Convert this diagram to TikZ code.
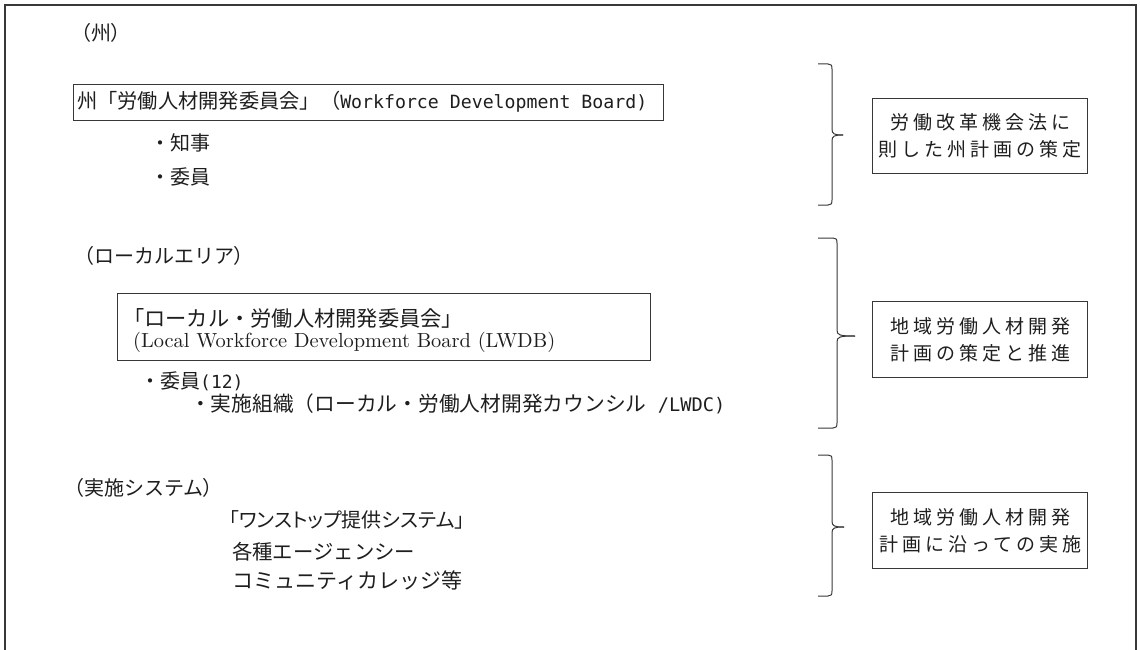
\documentclass[tikz,border=0pt]{standalone}
\usepackage{fontspec}
\usepackage{graphicx}
\newfontfamily\jp{Noto Sans CJK JP}
\newfontfamily\jpp[RawFeature=+palt]{Noto Sans CJK JP}
\newfontfamily\jpw[LetterSpace=21]{Noto Sans CJK JP}
\newfontfamily\monolat[Scale=0.9]{DejaVu Sans Mono}
\definecolor{ink}{HTML}{1E1E1E}
\definecolor{edge}{HTML}{383838}
\newcommand\drawbrace[6]{% left x, vertical x, tip x, top y, mid y, bottom y
  \draw[bracket] (#1,#4) -- ({#2-4},#4) .. controls ({#2-1},#4) and (#2,{#4+1}) .. (#2,{#4+5})
    -- (#2,{#5-6}) .. controls (#2,{#5-1}) and ({#2+2},#5) .. (#3,#5);
  \draw[bracket] (#3,#5) .. controls ({#2+2},#5) and (#2,{#5+1}) .. (#2,{#5+6})
    -- (#2,{#6-5}) .. controls (#2,{#6-1}) and ({#2-1},#6) .. ({#2-4},#6) -- (#1,#6);
}
\begin{document}
\begin{tikzpicture}[x=1pt,y=-1pt,
  txt/.style={inner sep=0pt, anchor=west, text=ink, font=\jp\fontsize{20pt}{24pt}\selectfont},
  frameline/.style={draw=edge, line width=1.1pt},
  box/.style={draw=edge, line width=1.1pt, inner sep=0pt, anchor=north west},
  note/.style={box, align=center, text=ink, font=\jpw\fontsize{19pt}{27pt}\selectfont},
  bracket/.style={draw=edge, line width=1pt}]
\useasboundingbox (0,0) rectangle (1140,650);
% outer frame (open at the bottom)
\draw[frameline] (5,651) -- (5,5) -- (1136,5) -- (1136,651);

% ---- state ----
\node[txt] (hstate) at (81,33) {{\jpp （}州{\jpp ）}};
\node[box, minimum width=590pt, minimum height=36pt] (b1) at (73,84) {};
\node[txt] (b1t) at (77,102) {\resizebox{570pt}{!}{州「労働人材開発委員会」（{\monolat Workforce Development Board)}}};
\node[txt] (gov) at (150,143) {・知事};
\node[txt] (mem1) at (150,177) {・委員};

% ---- local area ----
\node[txt] (hlocal) at (84,256) {{\jpp （}ローカルエリア{\jpp ）}};
\node[box, minimum width=533pt, minimum height=67pt] (b2) at (117,293) {};
\node[txt] (b2a) at (123,318) {\resizebox{340pt}{!}{「ローカル・労働人材開発委員会」}};
\node[txt, font=\rmfamily] (b2b) at (133,342) {\resizebox{422pt}{!}{(Local Workforce Development Board (LWDB)}};
\node[txt] (mem2) at (140,381) {・委員{\monolat (12)}};
\node[txt] (org) at (190,404) {\resizebox{535pt}{!}{・実施組織（ローカル・労働人材開発カウンシル{\monolat\ /LWDC)}}};

% ---- delivery system ----
\node[txt] (hsys) at (74,488) {{\jpp （}実施システム{\jpp ）}};
\node[txt, font=\jpp\fontsize{20pt}{24pt}\selectfont] (s1) at (229,520) {「ワンストップ提供システム」};
\node[txt] (s2) at (232,552) {\resizebox{183pt}{!}{各種エージェンシー}};
\node[txt] (s3) at (232,580) {\resizebox{230pt}{!}{コミュニティカレッジ等}};

% ---- right-hand notes ----
\node[note, minimum width=215pt, minimum height=75pt] (n1) at (872,98) {労働改革機会法に\\則した州計画の策定};
\node[note, minimum width=215pt, minimum height=76pt] (n2) at (872,301) {地域労働人材開発\\計画の策定と推進};
\node[note, minimum width=215pt, minimum height=76pt] (n3) at (872,492) {地域労働人材開発\\計画に沿っての実施};

% braces
\drawbrace{818}{832}{843}{64}{135}{205}
\drawbrace{818}{837}{855}{238}{336}{428}
\drawbrace{818}{832}{844}{455}{527}{596}
\end{tikzpicture}
\end{document}
